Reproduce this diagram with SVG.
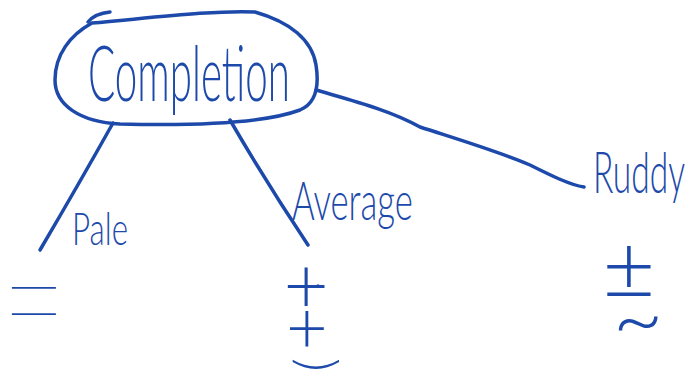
<svg xmlns="http://www.w3.org/2000/svg" width="691" height="374" viewBox="0 0 691 374">
<style>
.ink{fill:none;stroke:#1d4aaa;stroke-width:3.5;stroke-linecap:round;stroke-linejoin:round}
.lbl{fill:#1d4aaa;font-family:"Lato","Liberation Sans",sans-serif;font-weight:300}
.sym{fill:#1d4aaa;font-family:"Lato","Liberation Sans",sans-serif;font-weight:300;text-anchor:middle}
</style>
<rect width="691" height="374" fill="#ffffff"/>
<g id="connectors">
<path class="ink" d="M113 123 Q 80 182 40 250"/>
<path class="ink" d="M230 120 Q 266 182 308 245"/>
<path class="ink" d="M316 90 C 350 100 390 110 420 127 C 460 140 500 152 530 165 C 550 175 570 185 584 187"/>
</g>
<g id="node-completion">
<path class="ink" d="M92 23 C 150 18 215 10 255 12 C 290 22 312 40 316 65 C 320 90 314 104 300 110 C 268 122 200 126 120 124 C 80 122 55 105 55 80 C 55 55 70 35 92 23 Z"/>
<path class="ink" d="M110 12 C 100 13 92 17 88 22"/>
<text class="lbl" x="88" y="101" font-size="76" textLength="202" lengthAdjust="spacingAndGlyphs">Completion</text>
</g>
<g id="node-pale">
<text class="lbl" x="72" y="245" font-size="46" textLength="56" lengthAdjust="spacingAndGlyphs">Pale</text>
<text class="sym" transform="translate(34,0) scale(1.1,1.8)" x="0" y="201" font-size="100" style="font-weight:200">=</text>
</g>
<g id="node-average">
<text class="lbl" x="292" y="220" font-size="54" textLength="121" lengthAdjust="spacingAndGlyphs">Average</text>
<text class="sym"><tspan x="306" y="313" font-size="78">+</tspan><tspan x="307" y="353" font-size="72">+</tspan><tspan x="316" y="357" font-size="52" style="font-family:'DejaVu Sans',sans-serif">‿</tspan></text>
<circle cx="318" cy="286" r="1.8" fill="#1d4aaa"/>
</g>
<g id="node-ruddy">
<text class="lbl" x="593" y="193" font-size="58" textLength="92" lengthAdjust="spacingAndGlyphs">Ruddy</text>
<text class="sym"><tspan x="629" y="300" font-size="92">±</tspan><tspan x="638" y="350" font-size="88">~</tspan></text>
</g>
</svg>
